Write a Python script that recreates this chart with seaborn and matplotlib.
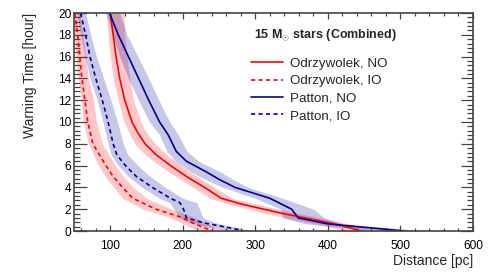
import numpy as np
import pandas as pd
import seaborn as sns
import matplotlib
matplotlib.use("Agg")
import matplotlib.pyplot as plt
from matplotlib.ticker import MultipleLocator

# ---- data (distance in pc vs warning time in hours) ----
odr_no_t = [20, 18, 16, 14, 12, 10, 9, 8, 7, 6, 5, 4, 3, 2.5, 1.6, 1.0, 0.55, 0]
odr_no_d = [100, 104, 108, 113, 120, 130, 138, 148, 163, 183, 205, 230, 253, 279, 338, 384, 416, 446]
odr_no_lo = [95, 97, 100, 104, 111, 119, 126, 134, 148, 168, 190, 214, 237, 262, 315, 355, 390, 425]
odr_no_hi = [119, 120, 123, 127, 132, 142, 150, 162, 178, 198, 220, 244, 268, 298, 360, 405, 435, 465]

odr_io_t = [20, 18, 16, 14, 12, 10, 8, 6, 5, 4, 3, 2, 1.3, 0.73, 0.1, 0]
odr_io_d = [51, 55, 58, 61, 65, 69, 76, 94, 104, 117, 131, 163, 196, 214, 237, 240]
odr_io_lo = [46, 50, 53, 56, 60, 63, 70, 84, 93, 105, 117, 145, 180, 198, 218, 222]
odr_io_hi = [58, 62, 66, 70, 77, 81, 89, 107, 118, 132, 150, 185, 214, 232, 250, 254]

pat_no_t = [20, 18, 16, 14, 12, 10, 8.8, 7.3, 6.4, 5.4, 4.7, 4, 3, 2, 1.2, 0.65, 0]
pat_no_d = [99, 111, 125, 139, 153, 168, 180, 191, 205, 233, 251, 272, 320, 350, 359, 400, 505]
pat_no_lo = [94, 103, 113, 125, 139, 154, 168, 178, 190, 212, 232, 255, 300, 335, 338, 370, 470]
pat_no_hi = [113, 123, 138, 153, 167, 182, 194, 206, 222, 252, 270, 290, 338, 380, 395, 420, 540]

pat_io_t = [20, 18, 16, 14, 12, 10, 8, 7, 6, 5, 4, 3, 2.6, 2, 1.2, 0.76, 0.1, 0]
pat_io_d = [59, 66, 72, 80, 89, 97, 104, 109, 121, 136, 158, 183, 196, 201, 205, 228, 279, 283]
pat_io_lo = [54, 59, 65, 72, 82, 90, 97, 101, 111, 125, 144, 168, 182, 188, 196, 210, 255, 258]
pat_io_hi = [66, 73, 81, 91, 101, 110, 118, 124, 138, 155, 176, 200, 219, 223, 228, 245, 290, 300]

labels = ["Odrzywolek, NO", "Odrzywolek, IO", "Patton, NO", "Patton, IO"]

RED = "#ff0000"
BLUE = "#000099"

sns.set_theme(style="ticks")
plt.rcParams["font.family"] = ["Liberation Sans", "DejaVu Sans"]
plt.rcParams["mathtext.fontset"] = "custom"
plt.rcParams["mathtext.rm"] = "Liberation Sans"
plt.rcParams["mathtext.bf"] = "Liberation Sans:bold"

fig = plt.figure(figsize=(4.98, 2.73), dpi=100)
ax = fig.add_axes([74 / 498, 1 - 231 / 273, 399 / 498, 218 / 273])

series = [
    (odr_no_t, odr_no_d, odr_no_lo, odr_no_hi, RED, "-"),
    (odr_io_t, odr_io_d, odr_io_lo, odr_io_hi, RED, "--"),
    (pat_no_t, pat_no_d, pat_no_lo, pat_no_hi, BLUE, "-"),
    (pat_io_t, pat_io_d, pat_io_lo, pat_io_hi, BLUE, "--"),
]

# bands first
for t, d, lo, hi, c, ls in series:
    ax.fill_betweenx(t, lo, hi, color=c, alpha=0.22, linewidth=0)

for (t, d, lo, hi, c, ls), lab in zip(series, labels):
    df = pd.DataFrame({"dist": d, "time": t})
    sns.lineplot(data=df, x="dist", y="time", sort=False, estimator=None,
                 color=c, lw=1.2, ax=ax, label=lab)
    if ls == "--":
        ax.lines[-1].set_dashes((2.5, 2))

ax.set_xlim(50, 600)
ax.set_ylim(0, 20)
ax.xaxis.set_major_locator(MultipleLocator(100))
ax.xaxis.set_minor_locator(MultipleLocator(20))
ax.yaxis.set_major_locator(MultipleLocator(2))
ax.yaxis.set_minor_locator(MultipleLocator(0.4))
ax.tick_params(axis="both", which="both", direction="in", top=True, right=True,
               color="#444444", width=0.9, labelsize=8.6, labelcolor="black")
ax.tick_params(axis="x", which="major", length=4.5, pad=6.5)
ax.tick_params(axis="x", which="minor", length=2.2)
ax.tick_params(axis="y", which="major", length=9, pad=2)
ax.tick_params(axis="y", which="minor", length=4.5)
for s in ax.spines.values():
    s.set_color("#444444")
    s.set_linewidth(1.2)

ax.set_xlabel("Distance [pc]", fontsize=10, loc="right")
ax.set_ylabel("Warning Time [hour]", fontsize=10, loc="top")
ax.xaxis.set_label_coords(1.0, -0.105)
ax.yaxis.set_label_coords(-0.093, 1.0)

ax.text(0.45, 0.90, r"15 M$_{\mathbf{\odot}}$ stars (Combined)", transform=ax.transAxes,
        fontsize=9, fontweight="bold", ha="left", va="center")
ax.legend(loc="upper left", bbox_to_anchor=(0.43, 0.82), frameon=False, fontsize=9.6,
          handlelength=2.4, handletextpad=0.5, labelspacing=0.38, borderaxespad=0)

fig.savefig("out.png", dpi=100)
